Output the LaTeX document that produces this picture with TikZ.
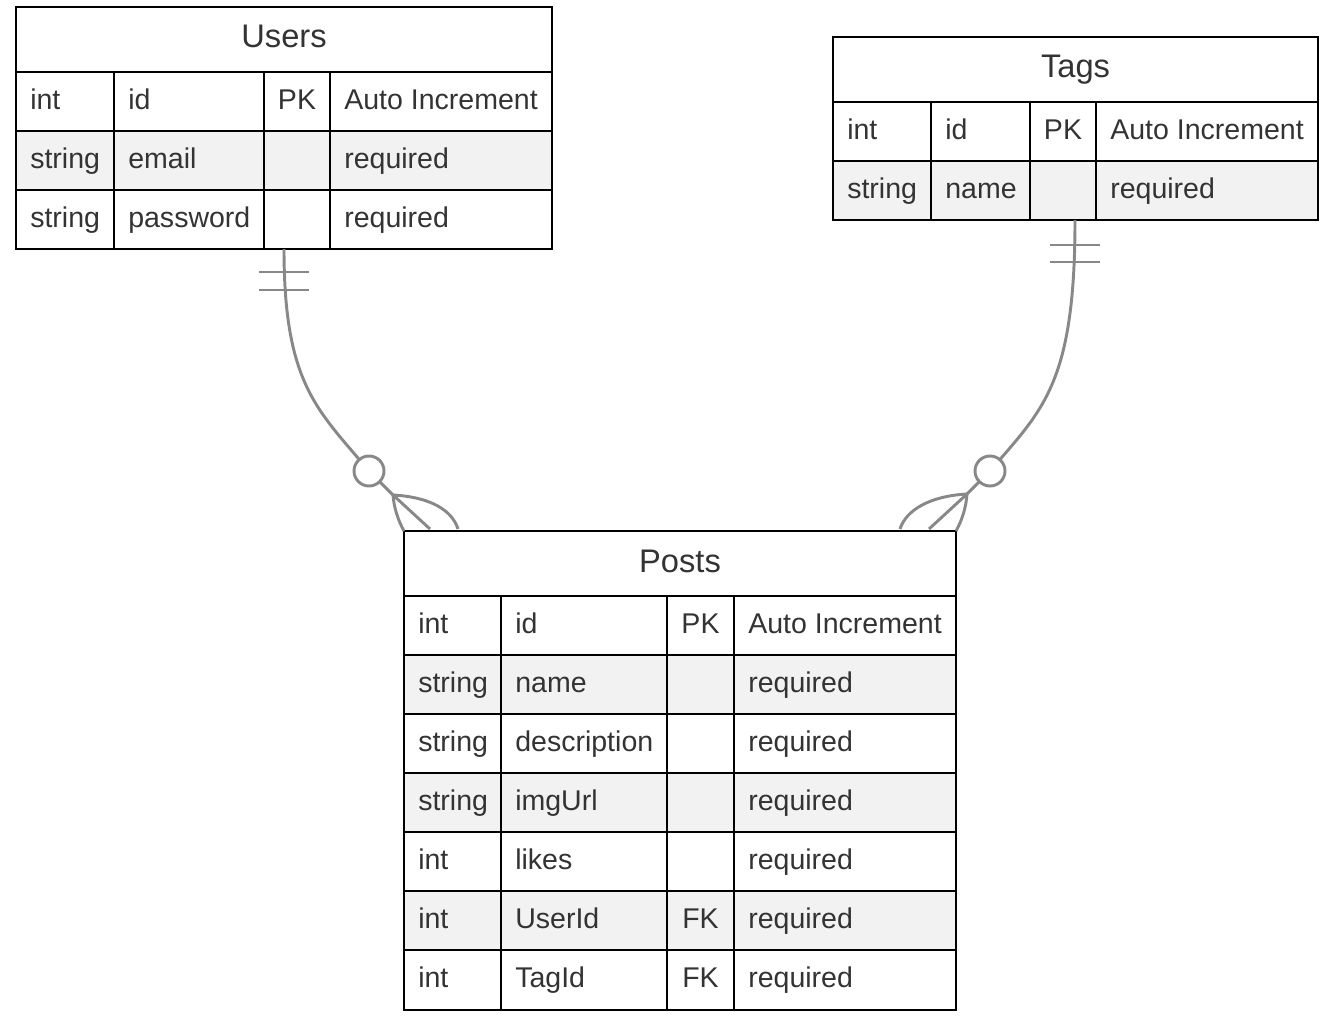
\documentclass[tikz,border=0pt]{standalone}
\usepackage{fontspec}
\setmainfont{Liberation Sans}
\definecolor{rowgray}{HTML}{F2F2F2}
\definecolor{txt}{HTML}{333333}
\definecolor{relgray}{HTML}{888888}
\begin{document}
\begin{tikzpicture}[x=0.75pt,y=-0.75pt,
  tbl/.style={draw=black,line width=2pt},
  ttl/.style={font=\fontsize{24.5}{28}\selectfont,text=txt,inner sep=0,anchor=base},
  fld/.style={font=\fontsize{21.4}{25}\selectfont,text=txt,inner sep=0,anchor=base west},
  keyf/.style={font=\fontsize{21.4}{25}\selectfont,text=txt,inner sep=0,anchor=base},
  rel/.style={draw=relgray,line width=2.2pt}]
\useasboundingbox (0,0) rectangle (1330,1024);
% ---------- Users ----------
\fill[rowgray] (16,131) rectangle (552,190);
\draw[tbl] (16,7) rectangle (552,249);
\draw[tbl] (16,72) -- (552,72) (16,131) -- (552,131) (16,190) -- (552,190);
\draw[tbl] (114,72) -- (114,249) (264,72) -- (264,249) (330,72) -- (330,249);
\node[ttl] (users) at (284,48) {Users};
\foreach \y/\a/\b/\c/\d [count=\i] in {101.5/int/id/PK/Auto Increment,160.5/string/email//required,219.5/string/password//required}{
  \node[fld] (users-\i-a) at (30,\y+8) {\a};
  \node[fld] (users-\i-b) at (128,\y+8) {\b};
  \node[keyf] (users-\i-c) at (297,\y+8) {\c};
  \node[fld] (users-\i-d) at (344,\y+8) {\d};
}
\coordinate (usersS) at (284,249);
% ---------- Tags ----------
\fill[rowgray] (833,161) rectangle (1318,220);
\draw[tbl] (833,37) rectangle (1318,220);
\draw[tbl] (833,102) -- (1318,102) (833,161) -- (1318,161);
\draw[tbl] (931,102) -- (931,220) (1030,102) -- (1030,220) (1096,102) -- (1096,220);
\node[ttl] (tags) at (1075.5,78) {Tags};
\foreach \y/\a/\b/\c/\d [count=\i] in {131.5/int/id/PK/Auto Increment,190.5/string/name//required}{
  \node[fld] (tags-\i-a) at (847,\y+8) {\a};
  \node[fld] (tags-\i-b) at (945,\y+8) {\b};
  \node[keyf] (tags-\i-c) at (1063,\y+8) {\c};
  \node[fld] (tags-\i-d) at (1110,\y+8) {\d};
}
\coordinate (tagsS) at (1075,220);
% ---------- Posts ----------
\foreach \t in {655,773,891}{\fill[rowgray] (404,\t) rectangle (956,\t+59);}
\draw[tbl] (404,531) rectangle (956,1010);
\foreach \t in {596,655,714,773,832,891,950}{\draw[tbl] (404,\t) -- (956,\t);}
\draw[tbl] (501,596) -- (501,1010) (667,596) -- (667,1010) (734,596) -- (734,1010);
\node[ttl] (posts) at (680,572) {Posts};
\foreach \y/\a/\b/\c/\d [count=\i] in {625.5/int/id/PK/Auto Increment,684.5/string/name//required,743.5/string/description//required,802.5/string/imgUrl//required,861.5/int/likes//required,920.5/int/UserId/FK/required,979.5/int/TagId/FK/required}{
  \node[fld] (posts-\i-a) at (418,\y+8) {\a};
  \node[fld] (posts-\i-b) at (515,\y+8) {\b};
  \node[keyf] (posts-\i-c) at (700.5,\y+8) {\c};
  \node[fld] (posts-\i-d) at (748,\y+8) {\d};
}
\coordinate (postsNW) at (404,531);
\coordinate (postsNE) at (956,531);
% ---------- Users -> Posts ----------
\coordinate (uc) at (369,471);
\coordinate (uf) at (393,495);
\draw[rel] (usersS) .. controls (284,385) and (318,410) .. (uc);
\draw[rel] (uc) -- (uf);
\draw[rel] (259,272) -- (309,272) (259,290) -- (309,290);
\draw[rel,fill=white] (uc) circle[radius=15];
\draw[rel] (uf) -- (430,529);
\draw[rel] (uf) .. controls (430,497) and (452,510) .. (458,529);
\draw[rel] (uf) .. controls (394,508) and (398,520) .. (postsNW);
% ---------- Tags -> Posts ----------
\coordinate (tc) at (990,471);
\coordinate (tf) at (967,494);
\draw[rel] (tagsS) .. controls (1075,385) and (1042,410) .. (tc);
\draw[rel] (tc) -- (tf);
\draw[rel] (1050,245) -- (1100,245) (1050,262) -- (1100,262);
\draw[rel,fill=white] (tc) circle[radius=15];
\draw[rel] (tf) -- (929,529);
\draw[rel] (tf) .. controls (930,496) and (906,510) .. (900,529);
\draw[rel] (tf) .. controls (966,508) and (962,520) .. (postsNE);
\end{tikzpicture}
\end{document}
